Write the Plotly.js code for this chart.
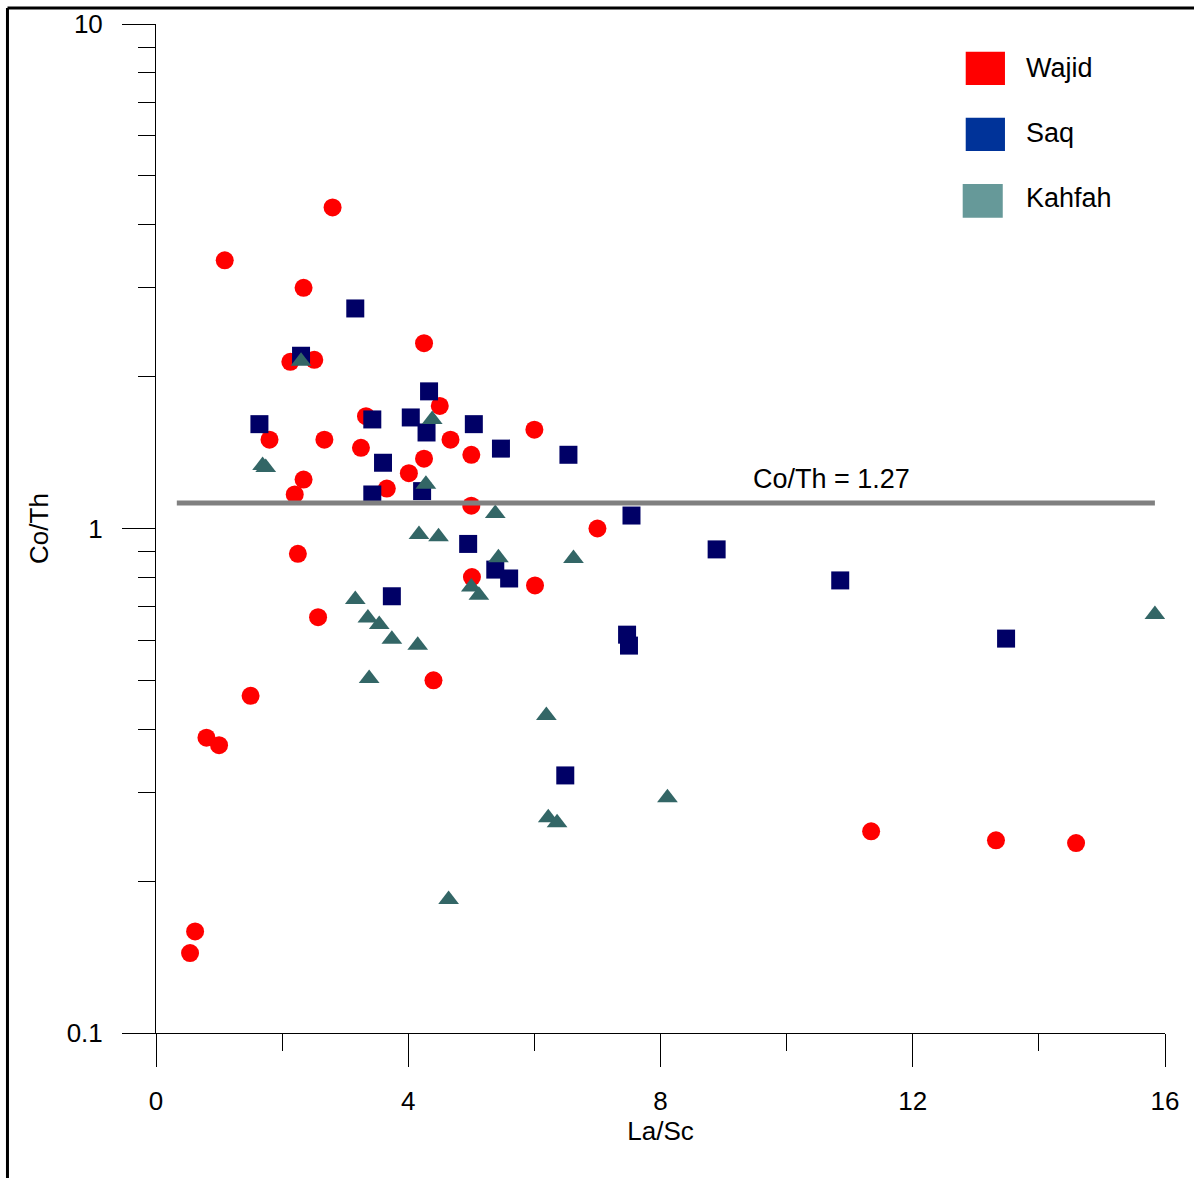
<!DOCTYPE html>
<html>
<head>
<meta charset="utf-8">
<script src="https://cdn.plot.ly/plotly-3.0.1.min.js"></script>
<style>
  html, body { margin: 0; padding: 0; background: #ffffff; }
  #chart { width: 1194px; height: 1178px; }
</style>
</head>
<body>
<div id="chart"></div>
<script>
// ---- Data (La/Sc vs Co/Th) ----
const wajidX = [1.09, 2.80, 2.34, 4.25, 2.13, 2.51, 3.33, 4.50, 1.80, 2.67, 3.25, 4.67, 4.25, 4.01, 2.34, 2.20, 3.66,
                5.00, 6.00, 5.00, 7.00, 2.25, 2.57, 4.40, 1.50, 0.80, 1.00, 0.62, 0.54, 5.01, 6.01, 11.34, 13.32, 14.59];
const wajidY = [3.40, 4.33, 3.00, 2.33, 2.14, 2.16, 1.67, 1.75, 1.50, 1.50, 1.445, 1.50, 1.375, 1.287, 1.25, 1.168, 1.20,
                1.40, 1.57, 1.11, 1.00, 0.891, 0.667, 0.500, 0.466, 0.385, 0.372, 0.159, 0.144, 0.801, 0.771, 0.251, 0.241, 0.238];

const saqX = [3.16, 2.30, 1.64, 4.33, 3.43, 4.04, 4.29, 5.04, 3.60, 5.47, 6.54, 3.43, 4.22, 7.54, 4.95, 8.89,
              3.74, 5.38, 5.60, 7.47, 7.50, 6.49, 10.85, 13.48];
const saqY = [2.73, 2.20, 1.61, 1.87, 1.645, 1.66, 1.55, 1.61, 1.35, 1.44, 1.40, 1.168, 1.186, 1.061, 0.932, 0.909,
              0.734, 0.829, 0.796, 0.616, 0.586, 0.324, 0.789, 0.605];

const kahfahX = [2.30, 1.69, 1.74, 4.38, 4.28, 5.38, 4.17, 4.48, 3.16, 3.36, 3.54, 3.74, 4.15, 3.38, 4.64, 5.43,
                 6.62, 5.00, 5.12, 6.19, 6.22, 6.36, 8.11, 15.84];
const kahfahY = [2.146, 1.333, 1.321, 1.645, 1.224, 1.071, 0.973, 0.963, 0.723, 0.665, 0.645, 0.603, 0.587, 0.504, 0.184, 0.875,
                 0.872, 0.766, 0.737, 0.426, 0.267, 0.261, 0.2925, 0.675];

// Reference line (as drawn) and its label
const refLineX = [0.33, 15.84];
const refLineY = [1.124, 1.124];
const refLineLabel = 'Co/Th = 1.27';

// Series names / legend colours
const seriesNames = ['Wajid', 'Saq', 'Kahfah'];
const legendColors = ['#FF0000', '#003399', '#669999'];
const markerColors = ['#FF0000', '#000066', '#336666'];
const markerSymbols = ['circle', 'square', 'triangle-up'];

// Axis ticks
const xTicks = [0, 4, 8, 12, 16];
const xMinorTicks = [2, 6, 10, 14];
const yTicks = [0.1, 1, 10];
const yTickText = ['0.1', '1', '10'];
const yMinorTicks = [0.2, 0.3, 0.4, 0.5, 0.6, 0.7, 0.8, 0.9, 2, 3, 4, 5, 6, 7, 8, 9];

const FONT = 'Liberation Sans, Arial, sans-serif';

const seriesX = [wajidX, saqX, kahfahX];
const seriesY = [wajidY, saqY, kahfahY];
const markerSizes = [18, 18, 18];

const traces = seriesNames.map((name, i) => ({
  type: 'scatter',
  mode: 'markers',
  name: name,
  x: seriesX[i],
  y: seriesY[i],
  showlegend: false,
  marker: { symbol: markerSymbols[i], color: markerColors[i], size: markerSizes[i], line: { width: 0 } },
  hoverinfo: 'x+y+name'
}));

traces.push({
  type: 'scatter',
  mode: 'lines',
  x: refLineX,
  y: refLineY,
  showlegend: false,
  line: { color: '#808080', width: 5 },
  hoverinfo: 'skip'
});

// Manual legend (square swatches + labels), in paper coordinates
const legendRows = [
  { x0: 0.8025, x1: 0.8414, y0: 0.9395, y1: 0.9725, ty: 0.9561 },
  { x0: 0.8025, x1: 0.8414, y0: 0.8741, y1: 0.9071, ty: 0.8920 },
  { x0: 0.7995, x1: 0.8392, y0: 0.8080, y1: 0.8414, ty: 0.8275 }
];

const shapes = legendRows.map((r, i) => ({
  type: 'rect', xref: 'paper', yref: 'paper',
  x0: r.x0, x1: r.x1, y0: r.y0, y1: r.y1,
  fillcolor: legendColors[i], line: { width: 0 }
}));
// Figure frame (left and top edges)
shapes.push({ type: 'line', xref: 'paper', yref: 'paper', x0: -0.1472, x1: -0.1472, y0: -0.2, y1: 1.0159,
              line: { color: '#000000', width: 3 } });
shapes.push({ type: 'line', xref: 'paper', yref: 'paper', x0: -0.1472, x1: 1.1, y0: 1.0159, y1: 1.0159,
              line: { color: '#000000', width: 3 } });

const annotations = legendRows.map((r, i) => ({
  xref: 'paper', yref: 'paper', x: 0.8605, y: r.ty,
  xanchor: 'left', yanchor: 'middle', showarrow: false,
  text: seriesNames[i], font: { family: FONT, size: 27, color: '#000000' }
}));
annotations.push({
  xref: 'x', yref: 'y', x: 10.71, y: Math.log10(refLineY[0]),
  yshift: 24, xanchor: 'center', yanchor: 'middle', showarrow: false,
  text: refLineLabel, font: { family: FONT, size: 27, color: '#000000' }
});

const layout = {
  width: 1194,
  height: 1178,
  margin: { l: 156, r: 29, t: 24, b: 145, pad: 0 },
  paper_bgcolor: '#ffffff',
  plot_bgcolor: '#ffffff',
  font: { family: FONT, size: 26, color: '#000000' },
  showlegend: false,
  xaxis: {
    range: [0, 16],
    tickmode: 'array',
    tickvals: xTicks,
    ticktext: xTicks.map(String),
    ticks: 'outside',
    ticklen: 33,
    tickwidth: 1,
    tickcolor: '#000000',
    ticklabelstandoff: 12,
    showline: true,
    linecolor: '#000000',
    linewidth: 1,
    showgrid: false,
    zeroline: false,
    tickfont: { family: FONT, size: 26, color: '#000000' },
    minor: { tickmode: 'array', tickvals: xMinorTicks, ticks: 'outside', ticklen: 17, tickwidth: 1, tickcolor: '#000000', showgrid: false },
    title: { text: 'La/Sc', font: { family: FONT, size: 26, color: '#000000' }, standoff: 2 }
  },
  yaxis: {
    type: 'log',
    range: [-1, 1],
    tickmode: 'array',
    tickvals: yTicks,
    ticktext: yTickText,
    ticks: 'outside',
    ticklen: 33,
    tickwidth: 1,
    tickcolor: '#000000',
    ticklabelstandoff: 14,
    showline: true,
    linecolor: '#000000',
    linewidth: 1,
    showgrid: false,
    zeroline: false,
    tickfont: { family: FONT, size: 26, color: '#000000' },
    minor: { tickmode: 'array', tickvals: yMinorTicks, ticks: 'outside', ticklen: 17, tickwidth: 1, tickcolor: '#000000', showgrid: false },
    title: { text: 'Co/Th', font: { family: FONT, size: 26, color: '#000000' }, standoff: 10 }
  },
  shapes: shapes,
  annotations: annotations
};

Plotly.newPlot('chart', traces, layout, { displayModeBar: false, staticPlot: false });
</script>
</body>
</html>
